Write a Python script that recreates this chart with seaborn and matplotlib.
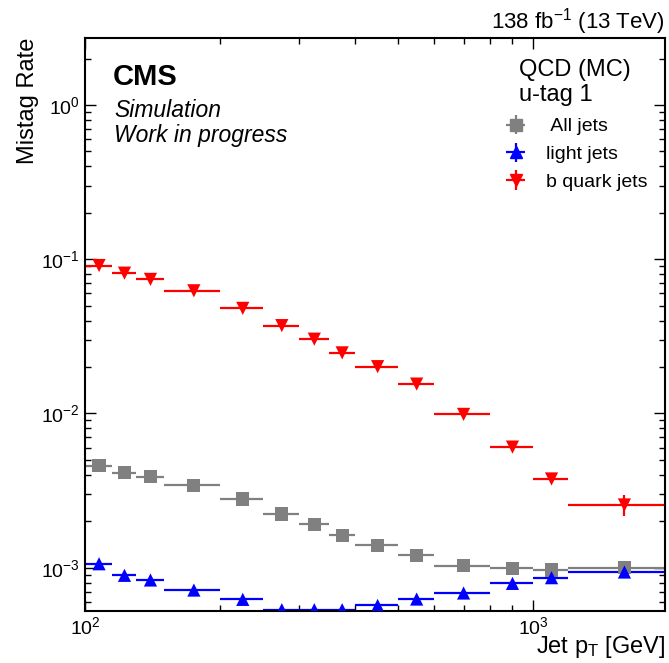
import numpy as np
import pandas as pd
import matplotlib
matplotlib.use("Agg")
import matplotlib.pyplot as plt
from matplotlib.lines import Line2D
import seaborn as sns

# ---- data ----
bin_edges = [100, 115, 130, 150, 200, 250, 300, 350, 400, 500, 600, 800, 1000, 1200, 2000]
all_jets = [4.57e-3, 4.14e-3, 3.90e-3, 3.43e-3, 2.79e-3, 2.23e-3, 1.91e-3, 1.62e-3,
            1.40e-3, 1.20e-3, 1.03e-3, 0.99e-3, 0.966e-3, 1.00e-3]
light_jets = [1.06e-3, 0.892e-3, 0.832e-3, 0.716e-3, 0.623e-3, 0.534e-3, 0.534e-3, 0.534e-3,
              0.569e-3, 0.626e-3, 0.685e-3, 0.791e-3, 0.861e-3, 0.937e-3]
b_jets = [0.091, 0.0812, 0.074, 0.0624, 0.048, 0.0371, 0.0303, 0.0247,
          0.0201, 0.0155, 0.00986, 0.00605, 0.00376, 0.00255]
b_jets_err = [0.002, 0.0015, 0.0013, 0.0009, 0.0007, 0.0005, 0.0004, 0.0004,
              0.0003, 0.0003, 0.0002, 0.00015, 0.00015, 0.0004]
all_err = [0.00004] * 14
light_err = [0.00002] * 14
series_names = [" All jets", "light jets", "b quark jets"]
series_colors = ["#808080", "#0000ff", "#ff0000"]
series_markers = ["s", "^", "v"]

edges = np.array(bin_edges, dtype=float)
centers = 0.5 * (edges[:-1] + edges[1:])
halfw = 0.5 * (edges[1:] - edges[:-1])

values = [all_jets, light_jets, b_jets]
errors = [all_err, light_err, b_jets_err]

df = pd.concat([
    pd.DataFrame({"pt": centers, "rate": v, "series": n})
    for v, n in zip(values, series_names)
], ignore_index=True)

sns.set_theme(style="ticks")
plt.rcParams["font.family"] = ["Liberation Sans", "DejaVu Sans"]
plt.rcParams["mathtext.fontset"] = "custom"
plt.rcParams["mathtext.rm"] = "Liberation Sans"
plt.rcParams["mathtext.it"] = "Liberation Sans:italic"
plt.rcParams["text.color"] = "black"
plt.rcParams["axes.labelcolor"] = "black"
plt.rcParams["xtick.color"] = "black"
plt.rcParams["ytick.color"] = "black"

fig = plt.figure(figsize=(6.69, 6.63), dpi=100)
ax = fig.add_axes([85 / 669, 1 - 610.7 / 663, (665 - 85) / 669, (610.7 - 37.7) / 663])

handles = []
for v, e, n, c, m in zip(values, errors, series_names, series_colors, series_markers):
    cont = ax.errorbar(centers, v, xerr=halfw, yerr=e, fmt="none", ecolor=c,
                       elinewidth=1.6, capsize=0, zorder=2)
    handles.append((cont, Line2D([], [], marker=m, color=c, linestyle="none", markersize=9)))

sns.scatterplot(data=df, x="pt", y="rate", hue="series", style="series",
                palette=dict(zip(series_names, series_colors)),
                markers=dict(zip(series_names, series_markers)),
                s=90, edgecolor="none", legend=False, ax=ax, zorder=3)

ax.set_xscale("log")
ax.set_yscale("log")
ax.set_xlim(100, 1971)
ax.set_ylim(5.26e-4, 2.73)

for s in ax.spines.values():
    s.set_linewidth(1.5)
    s.set_color("black")
ax.tick_params(which="both", direction="in", top=True, right=True, labelsize=14, pad=4,
               colors="black")
ax.tick_params(which="major", length=8, width=1.0)
ax.tick_params(which="minor", length=4.5, width=1.0)

ax.set_xlabel("Jet p$_\\mathregular{T}$ [GeV]", fontsize=17, loc="right", labelpad=-3)
ax.set_ylabel("Mistag Rate", fontsize=17, loc="top", labelpad=1)

ax.text(0.048, 0.932, "CMS", transform=ax.transAxes, fontsize=21, fontweight="bold",
        va="center", ha="left")
ax.text(0.050, 0.873, "Simulation", transform=ax.transAxes, fontsize=16.5, style="italic",
        va="center", ha="left")
ax.text(0.050, 0.829, "Work in progress", transform=ax.transAxes, fontsize=16.5, style="italic",
        va="center", ha="left")
ax.text(1.0, 1.0274, "138 fb$^{-1}$ (13 TeV)", transform=ax.transAxes, fontsize=16,
        va="center", ha="right")

ax.text(0.748, 0.944, "QCD (MC)", transform=ax.transAxes, fontsize=17, va="center", ha="left")
ax.text(0.748, 0.900, "u-tag 1", transform=ax.transAxes, fontsize=17, va="center", ha="left")

leg = ax.legend(handles, series_names, loc="upper left",
                bbox_to_anchor=(0.7207, 0.8602), frameon=False, fontsize=14,
                borderpad=0, borderaxespad=0,
                handlelength=1.3, handletextpad=0.9, labelspacing=0.52)

fig.savefig("out.png", dpi=100)
